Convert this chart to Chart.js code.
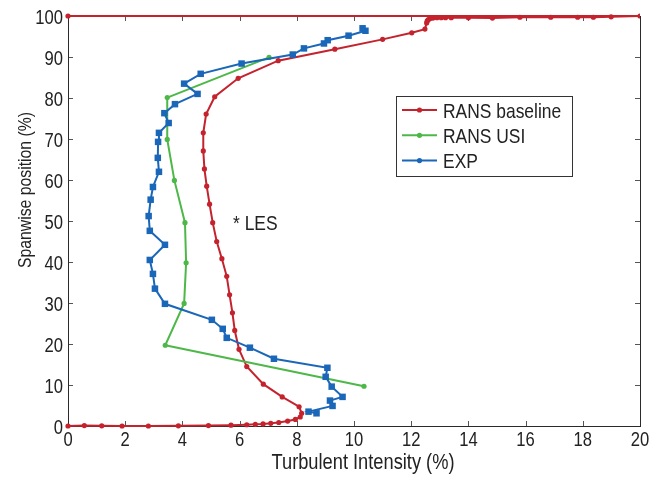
<!DOCTYPE html>
<html>
<head>
<meta charset="utf-8">
<title>Turbulent intensity profiles</title>
<script src="https://cdn.jsdelivr.net/npm/chart.js@4.4.1/dist/chart.umd.min.js"></script>
<style>
  html, body { margin: 0; padding: 0; background: #fff; }
</style>
</head>
<body>
<canvas id="myChart" width="660" height="477"></canvas>
<script>
// PROFILE DATA (turbulent intensity % vs spanwise position %)
const baselineTI = [0, 0.57, 1.18, 1.89, 2.81, 3.86, 4.91, 5.70, 6.25, 6.55, 6.82, 7.09, 7.37, 7.68, 7.95, 8.12, 8.17, 8.08,
    7.49, 6.83, 6.25, 5.98, 5.83, 5.75, 5.65, 5.55, 5.38, 5.20, 5.06, 4.95, 4.85, 4.77, 4.73, 4.73, 4.83, 5.13, 5.95,
    7.35, 9.33, 11.0, 12.02, 12.48, 12.54, 12.56, 12.60, 12.66, 12.76, 12.90, 13.05, 13.20, 13.40, 14.0, 14.84, 15.8,
    16.88, 17.82, 18.37, 18.99, 20, 0];
const baselineSpan = [0, 0.1, 0.05, 0, 0, 0.05, 0.1, 0.2, 0.3, 0.4, 0.5, 0.65, 0.85, 1.2, 1.6, 2.2, 3.1, 4.7,
    7.1, 10.2, 14.5, 18.7, 23.3, 27.6, 32.0, 36.5, 40.8, 45.0, 49.6, 54.1, 58.5, 62.7, 67.1, 71.5, 76.1, 80.3, 84.8,
    89.1, 91.9, 94.3, 95.9, 96.8, 98.3, 98.8, 99.1, 99.4, 99.5, 99.6, 99.6, 99.6, 99.6, 99.6, 99.5, 99.7,
    99.7, 99.7, 99.7, 99.8, 100, 100];

const usiTI = [10.35, 3.40, 4.06, 4.13, 4.09, 3.72, 3.47, 3.47, 7.03];
const usiSpan = [9.7, 19.7, 29.9, 39.8, 49.6, 59.9, 69.9, 80.1, 89.9];

const expTI = [8.69, 8.41, 9.25, 9.16, 9.60, 9.22, 9.01, 9.07, 7.20, 6.36, 5.55, 5.41, 5.03, 3.39, 3.04, 2.97, 2.86,
    3.39, 2.86, 2.82, 2.89, 2.97, 3.18, 3.14, 3.15, 3.18, 3.52, 3.37, 3.74, 4.53, 4.06, 4.64, 6.07, 7.86, 8.25,
    8.95, 9.08, 9.81, 10.4, 10.3];
const expSpan = [3.1, 3.5, 4.9, 6.2, 7.1, 9.6, 12.0, 14.2, 16.4, 19.1, 21.5, 23.7, 25.9, 29.8, 33.5, 37.1, 40.5,
    44.2, 47.6, 51.2, 55.2, 58.3, 62.0, 65.4, 69.3, 71.5, 73.9, 76.3, 78.5, 81.0, 83.5, 85.9, 88.4, 90.6, 92.1,
    93.3, 94.1, 95.2, 96.4, 97.0];

const seriesNames = ['RANS baseline', 'RANS USI', 'EXP'];
const seriesColors = ['#c4232e', '#4db848', '#1a66b8'];

const xRange = [0, 20];
const xStep = 2;
const yRange = [0, 100];
const yStep = 10;

const xTitle = 'Turbulent Intensity (%)';
const yTitle = 'Spanwise position (%)';

const lesLabel = '* LES';
const lesAt = [5.77, 47.8];

const FONT = '"Liberation Sans", Arial, Helvetica, sans-serif';
const SQUEEZE = 0.83; // narrow lettering, like Helvetica Condensed
const TEXT = '#222';

// HELPERS

const toPoints = function (xs, ys) {
    return xs.map((x, i) => ({x: x, y: ys[i]}));
}

/**
 * text squeezed sideways; rotated reads bottom to top
 */
const narrowText = function (ctx, text, x, y, size, align, rotated) {
    ctx.save();
    ctx.translate(x, y);
    if (rotated) ctx.rotate(-Math.PI / 2);
    ctx.scale(SQUEEZE, 1);
    ctx.font = size + 'px ' + FONT;
    ctx.textAlign = align;
    ctx.textBaseline = 'alphabetic';
    ctx.fillStyle = TEXT;
    ctx.fillText(text, 0, 0);
    ctx.restore();
}

// box round the plot with inward tick marks on all four sides
const boxPlugin = {
    id: 'box',
    beforeDatasetsDraw(chart) {
        const ctx = chart.ctx;
        const a = chart.chartArea;
        const xs = chart.scales.x;
        const ys = chart.scales.y;
        ctx.save();
        ctx.strokeStyle = '#555';
        ctx.lineWidth = 1;
        ctx.beginPath();
        xs.ticks.forEach(t => {
            const px = Math.round(xs.getPixelForValue(t.value)) + 0.5;
            ctx.moveTo(px, a.bottom); ctx.lineTo(px, a.bottom - 5);
            ctx.moveTo(px, a.top); ctx.lineTo(px, a.top + 5);
        });
        ys.ticks.forEach(t => {
            const py = Math.round(ys.getPixelForValue(t.value)) + 0.5;
            ctx.moveTo(a.left, py); ctx.lineTo(a.left + 5, py);
            ctx.moveTo(a.right, py); ctx.lineTo(a.right - 5, py);
        });
        ctx.stroke();
        ctx.strokeStyle = '#2a2a2a';
        ctx.strokeRect(Math.round(a.left) + 0.5, Math.round(a.top) + 0.5,
            Math.round(a.right - a.left), Math.round(a.bottom - a.top));
        ctx.restore();

        // tick labels and axis titles
        xs.ticks.forEach(t => {
            narrowText(ctx, String(t.value), xs.getPixelForValue(t.value), a.bottom + 20, 20, 'center');
        });
        ys.ticks.forEach(t => {
            narrowText(ctx, String(t.value), a.left - 5, ys.getPixelForValue(t.value) + 8, 20, 'right');
        });
        narrowText(ctx, xTitle, 363, 469, 22, 'center');
        narrowText(ctx, yTitle, 31, 190, 19, 'center', true);
    }
};

// legend box inside the plot and the LES note
const notesPlugin = {
    id: 'notes',
    afterDraw(chart) {
        const ctx = chart.ctx;
        const xs = chart.scales.x;
        const ys = chart.scales.y;
        ctx.save();

        ctx.fillStyle = '#fff';
        ctx.fillRect(397, 97, 176, 80);
        ctx.strokeStyle = '#333';
        ctx.lineWidth = 1;
        ctx.strokeRect(396.5, 96.5, 176, 80);

        seriesNames.forEach((name, i) => {
            const ly = 110 + i * 25.3;
            ctx.strokeStyle = seriesColors[i];
            ctx.lineWidth = 2;
            ctx.beginPath();
            ctx.moveTo(402, ly);
            ctx.lineTo(437, ly);
            ctx.stroke();
            ctx.fillStyle = seriesColors[i];
            ctx.beginPath();
            ctx.arc(419.5, ly, 2.6, 0, Math.PI * 2);
            ctx.fill();
            narrowText(ctx, name, 443, ly + 7.5, 21, 'left');
        });
        ctx.restore();

        narrowText(ctx, lesLabel, xs.getPixelForValue(lesAt[0]), ys.getPixelForValue(lesAt[1]), 21, 'left');
    }
};

// DATASETS

const shapes = ['circle', 'circle', 'rect'];
const radii = [2.6, 2.6, 4.6];
const profiles = [
    toPoints(baselineTI, baselineSpan),
    toPoints(usiTI, usiSpan),
    toPoints(expTI, expSpan)
];

const datasets = profiles.map((pts, i) => ({
    label: seriesNames[i],
    data: pts,
    showLine: true,
    borderColor: seriesColors[i],
    backgroundColor: seriesColors[i],
    borderWidth: 2,
    pointStyle: shapes[i],
    pointRadius: radii[i],
    pointBorderWidth: 0,
    pointHoverRadius: radii[i],
    order: 2 - i,
    clip: {left: 6, top: 6, right: 0, bottom: 6}
}));

// DRAW GRAPH
const chart = new Chart(document.getElementById('myChart'), {
    type: 'scatter',
    data: {datasets: datasets},
    plugins: [boxPlugin, notesPlugin],
    options: {
        responsive: false,
        animation: false,
        devicePixelRatio: 1,
        layout: {padding: {top: 16, right: 20, left: 0, bottom: 0}},
        plugins: {
            legend: {display: false},
            tooltip: {enabled: false}
        },
        scales: {
            x: {
                type: 'linear',
                min: xRange[0],
                max: xRange[1],
                grid: {display: false, drawTicks: false},
                border: {display: false},
                ticks: {stepSize: xStep, display: false},
                afterFit: s => { s.height = 51; }
            },
            y: {
                type: 'linear',
                min: yRange[0],
                max: yRange[1],
                grid: {display: false, drawTicks: false},
                border: {display: false},
                ticks: {stepSize: yStep, display: false},
                afterFit: s => { s.width = 68; }
            }
        }
    }
});
</script>
</body>
</html>
